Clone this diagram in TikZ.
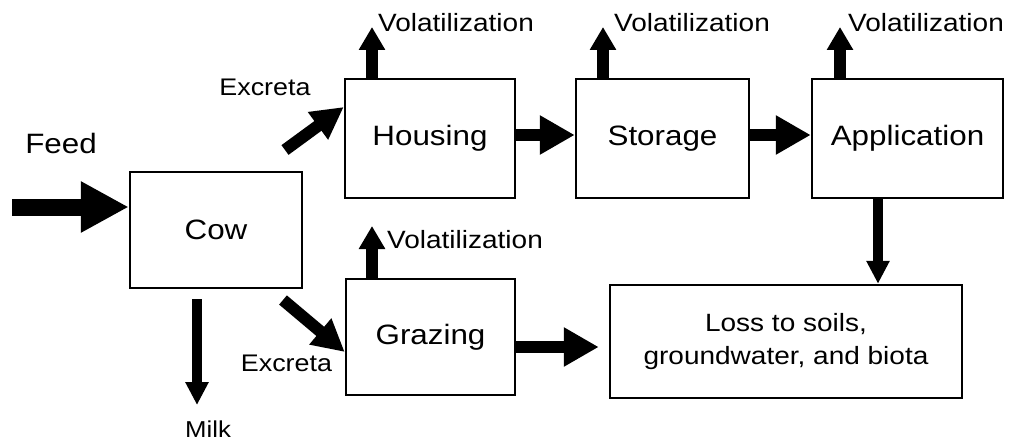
\documentclass[tikz,border=0pt]{standalone}
\usepackage{fontspec}
\setmainfont[FakeStretch=1.12]{Liberation Sans}
\usetikzlibrary{arrows.meta}
\begin{document}
\begin{tikzpicture}[x=1pt,y=-1pt,
  boxnode/.style={draw=black,line width=2.5pt,minimum width=#1,inner sep=0pt},
  bigtext/.style={font=\fontsize{28}{32}\selectfont},
  voltext/.style={font=\fontsize{25}{28}\selectfont,anchor=base west,inner sep=0pt},
  smalltext/.style={font=\fontsize{24}{28}\selectfont,inner sep=0pt},
  feedarrow/.style={line width=17pt,-{Triangle[length=48pt,width=48pt]}},
  flowarrow/.style={line width=12.5pt,-{Triangle[length=35pt,width=37pt]}},
  exarrow/.style={line width=12pt,-{Triangle[length=32pt,width=32pt]}},
  volarrow/.style={line width=12pt,-{Triangle[length=23pt,width=25pt]}},
  thinarrow/.style={line width=10pt,-{Triangle[length=23pt,width=22pt]}}
]
\useasboundingbox[fill=white] (0,0) rectangle (1011,441);

% boxes
\node[boxnode=172pt,minimum height=116pt,bigtext] (cow) at (216,230) {Cow};
\node[boxnode=170pt,minimum height=119pt,bigtext] (housing) at (430,138.5) {Housing};
\node[boxnode=173pt,minimum height=119pt,bigtext] (storage) at (662.5,138.5) {Storage};
\node[boxnode=191pt,minimum height=119pt,bigtext] (application) at (907.5,138.5) {Application};
\node[boxnode=169pt,minimum height=116pt,bigtext] (grazing) at (430.5,337) {Grazing};
\node[boxnode=352pt,minimum height=113pt,align=center,font=\fontsize{25}{33}\selectfont] (loss) at (786,341.5) {\raisebox{5pt}{\begin{tabular}{@{}c@{}}Loss to soils,\\[-0.5pt]groundwater, and biota\end{tabular}}};

% free ends
\coordinate (feedS) at (12,207);
\coordinate (ex1S) at (285,150);
\coordinate (ex2S) at (283,300);
\coordinate (milkT) at (197,405);
\coordinate (vhT) at (372,27);
\coordinate (vsT) at (603,27);
\coordinate (vaT) at (840,27);
\coordinate (vgT) at (372,226);

% labels
\node[bigtext,inner sep=0pt] (feed) at (61,143) {Feed};
\node[smalltext] (excreta1) at (265,87) {Excreta};
\node[smalltext] (excreta2) at (286.5,363) {Excreta};
\node[smalltext,font=\fontsize{23}{26}\selectfont,anchor=base] (milk) at (208,437) {Milk};
\node[voltext] (volh) at (378,32) {Volatilization};
\node[voltext] (vols) at (614,32) {Volatilization};
\node[voltext] (vola) at (848,32) {Volatilization};
\node[voltext] (volg) at (387,248) {Volatilization};

% connectors
\draw[feedarrow] (feedS) -- (feedS -| cow.west);
\draw[exarrow] (ex1S) -- ([yshift=31.5pt]housing.west);
\draw[exarrow] (ex2S) -- ([yshift=-15pt]grazing.west);
\draw[thinarrow] (milkT |- cow.south) ++(0,10) -- (milkT);
\draw[flowarrow] ([yshift=3.5pt]housing.east) -- ([yshift=3.5pt]housing.east -| storage.west);
\draw[flowarrow] ([yshift=3.5pt]storage.east) -- ([yshift=3.5pt]storage.east -| application.west);
\draw[thinarrow] ([xshift=-29.5pt]application.south) -- ([xshift=-29.5pt]application.south |- loss.north);
\draw[flowarrow,shorten >=10pt] ([yshift=-10pt]grazing.east) -- ([yshift=-10pt]grazing.east -| loss.west);
\draw[volarrow] (vhT |- housing.north) -- (vhT);
\draw[volarrow] (vsT |- storage.north) -- (vsT);
\draw[volarrow] (vaT |- application.north) -- (vaT);
\draw[volarrow] (vgT |- grazing.north) -- (vgT);
\end{tikzpicture}
\end{document}
